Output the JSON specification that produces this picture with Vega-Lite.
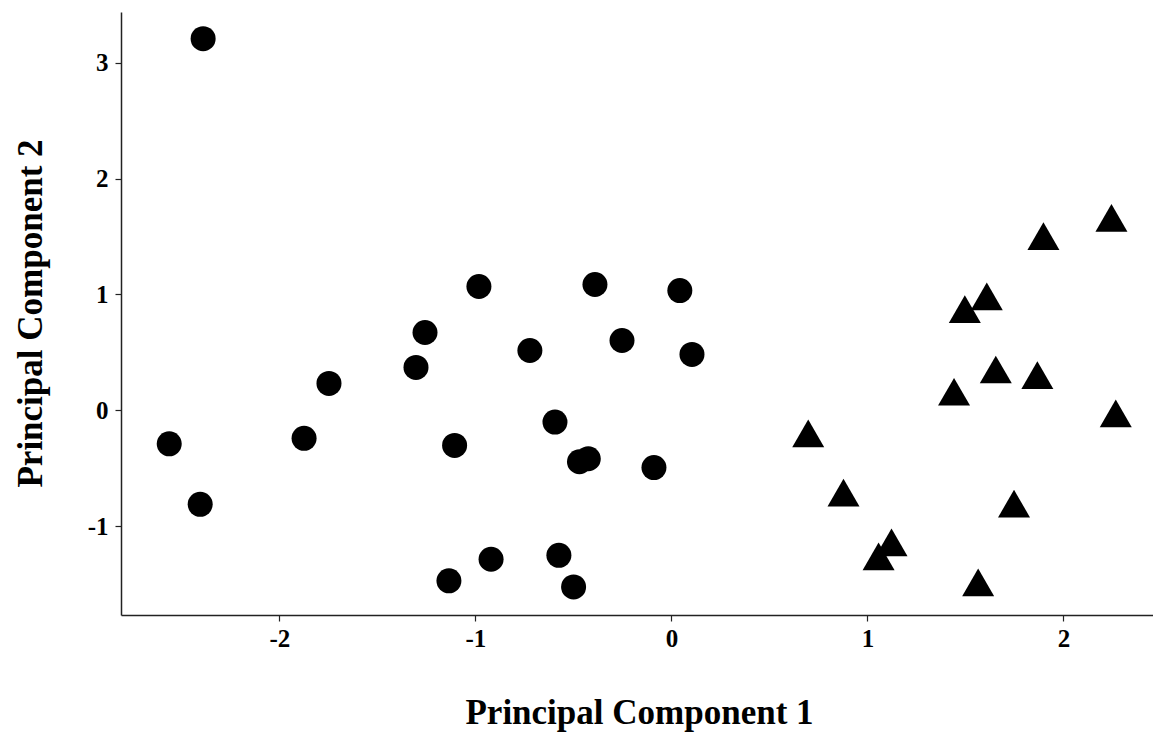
{
  "$schema": "https://vega.github.io/schema/vega-lite/v6.json",
  "autosize": "none",
  "padding": {"left": 121, "top": 12, "right": 0, "bottom": 117},
  "width": 1032,
  "height": 603,
  "background": "white",
  "config": {
    "view": {"stroke": null},
    "axis": {
      "grid": false,
      "domainColor": "#222222",
      "domainWidth": 1.5,
      "tickColor": "#222222",
      "tickWidth": 1.2,
      "tickSize": 6,
      "labelFont": "Liberation Serif",
      "labelFontWeight": "bold",
      "labelColor": "black",
      "titleFont": "Liberation Serif",
      "titleFontWeight": "bold",
      "titleColor": "black"
    }
  },
  "data": {
    "values": [
      {"pc1": -2.389, "pc2": 3.207, "group": "A"},
      {"pc1": -2.562, "pc2": -0.288, "group": "A"},
      {"pc1": -2.404, "pc2": -0.810, "group": "A"},
      {"pc1": -1.874, "pc2": -0.241, "group": "A"},
      {"pc1": -1.747, "pc2": 0.233, "group": "A"},
      {"pc1": -1.303, "pc2": 0.371, "group": "A"},
      {"pc1": -1.257, "pc2": 0.672, "group": "A"},
      {"pc1": -1.106, "pc2": -0.302, "group": "A"},
      {"pc1": -0.982, "pc2": 1.069, "group": "A"},
      {"pc1": -1.135, "pc2": -1.470, "group": "A"},
      {"pc1": -0.920, "pc2": -1.284, "group": "A"},
      {"pc1": -0.722, "pc2": 0.517, "group": "A"},
      {"pc1": -0.594, "pc2": -0.101, "group": "A"},
      {"pc1": -0.574, "pc2": -1.250, "group": "A"},
      {"pc1": -0.499, "pc2": -1.523, "group": "A"},
      {"pc1": -0.469, "pc2": -0.443, "group": "A"},
      {"pc1": -0.424, "pc2": -0.417, "group": "A"},
      {"pc1": -0.390, "pc2": 1.086, "group": "A"},
      {"pc1": -0.252, "pc2": 0.603, "group": "A"},
      {"pc1": -0.089, "pc2": -0.493, "group": "A"},
      {"pc1": 0.043, "pc2": 1.034, "group": "A"},
      {"pc1": 0.105, "pc2": 0.483, "group": "A"},
      {"pc1": 2.245, "pc2": 1.661, "group": "B"},
      {"pc1": 1.898, "pc2": 1.503, "group": "B"},
      {"pc1": 1.609, "pc2": 0.983, "group": "B"},
      {"pc1": 1.497, "pc2": 0.873, "group": "B"},
      {"pc1": 1.655, "pc2": 0.353, "group": "B"},
      {"pc1": 1.867, "pc2": 0.305, "group": "B"},
      {"pc1": 1.442, "pc2": 0.161, "group": "B"},
      {"pc1": 2.267, "pc2": -0.026, "group": "B"},
      {"pc1": 0.698, "pc2": -0.198, "group": "B"},
      {"pc1": 0.878, "pc2": -0.710, "group": "B"},
      {"pc1": 1.748, "pc2": -0.804, "group": "B"},
      {"pc1": 1.123, "pc2": -1.138, "group": "B"},
      {"pc1": 1.057, "pc2": -1.259, "group": "B"},
      {"pc1": 1.565, "pc2": -1.483, "group": "B"}
    ]
  },
  "mark": {"type": "point", "filled": true, "opacity": 1, "color": "black", "strokeWidth": 0},
  "encoding": {
    "x": {
      "field": "pc1", "type": "quantitative",
      "scale": {"domain": [-2.808, 2.457], "nice": false, "zero": false},
      "axis": {"values": [-2, -1, 0, 1, 2], "labelExpr": "datum.value < 0 ? '-' + abs(datum.value) : '' + datum.value", "labelFontSize": 25, "title": "Principal Component 1", "titleFontSize": 35, "titleX": 518, "titleY": 97, "titleBaseline": "middle", "labelPadding": 5}
    },
    "y": {
      "field": "pc2", "type": "quantitative",
      "scale": {"domain": [-1.765, 3.437], "nice": false, "zero": false},
      "axis": {"values": [-1, 0, 1, 2, 3], "labelExpr": "datum.value < 0 ? '-' + abs(datum.value) : '' + datum.value", "labelFontSize": 25, "title": "Principal Component 2", "titleFontSize": 35, "titleX": -91, "titleY": 301, "titleBaseline": "middle", "titleAngle": -90, "labelPadding": 7}
    },
    "shape": {
      "field": "group", "type": "nominal",
      "scale": {"domain": ["A", "B"], "range": ["circle", "triangle-up"]},
      "legend": null
    },
    "size": {
      "field": "group", "type": "nominal",
      "scale": {"domain": ["A", "B"], "range": [625, 1024]},
      "legend": null
    }
  }
}
